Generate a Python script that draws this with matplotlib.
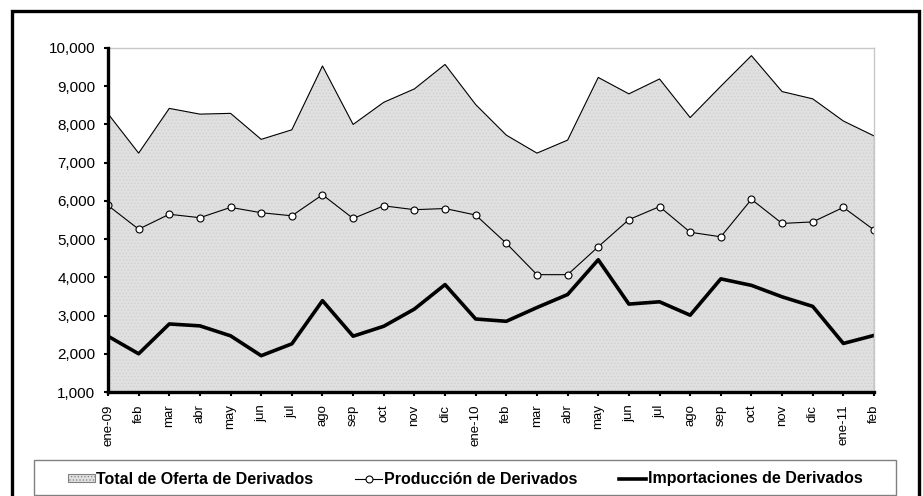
import numpy as np
import matplotlib
matplotlib.use('Agg')
import matplotlib.pyplot as plt
from matplotlib.patches import Rectangle, Patch
from matplotlib.lines import Line2D
from matplotlib.ticker import FuncFormatter

plt.rcParams['font.family'] = ['Liberation Sans', 'DejaVu Sans']
plt.rcParams['hatch.linewidth'] = 0.5

meses = ['ene-09', 'feb', 'mar', 'abr', 'may', 'jun', 'jul', 'ago', 'sep', 'oct', 'nov', 'dic',
         'ene-10', 'feb', 'mar', 'abr', 'may', 'jun', 'jul', 'ago', 'sep', 'oct', 'nov', 'dic',
         'ene-11', 'feb']
total = [8280, 7250, 8420, 8270, 8290, 7610, 7860, 9530, 8000, 8580, 8930, 9570,
         8520, 7720, 7250, 7590, 9230, 8800, 9190, 8180, 9000, 9800, 8860, 8670,
         8090, 7700]
produccion = [5880, 5260, 5650, 5560, 5830, 5690, 5610, 6160, 5540, 5870, 5770, 5800,
              5630, 4890, 4070, 4070, 4800, 5510, 5850, 5180, 5060, 6040, 5410, 5450,
              5830, 5240]
importaciones = [2460, 2000, 2780, 2730, 2470, 1950, 2260, 3390, 2460, 2720, 3170, 3810,
                 2910, 2850, 3210, 3550, 4460, 3300, 3360, 3010, 3960, 3790, 3490, 3240,
                 2270, 2480]

x = np.arange(len(meses))

fig = plt.figure(figsize=(9.23, 4.96), dpi=100)
ax = fig.add_axes([108/923, 1-392/496, 766/923, 344/496])

ax.fill_between(x, 1000, total, facecolor='#e0e0e0', hatch='.....', edgecolor='#cfcfcf',
                linewidth=0)
ax.plot(x, total, color='black', lw=0.8)
ax.plot([x[-1], x[-1]], [1000, total[-1]], color='black', lw=0.8)
ax.plot(x, produccion, color='black', lw=0.8, marker='o', ms=5, mfc='white', mec='black',
        mew=0.8)
ax.plot(x, importaciones, color='black', lw=2.6)

ax.set_xlim(0, 25)
ax.set_ylim(1000, 10000)
ax.set_yticks(range(1000, 10001, 1000))
ax.yaxis.set_major_formatter(FuncFormatter(lambda v, p: f'{int(v):,}'))
ax.set_xticks(x)
ax.set_xticklabels(meses, rotation=90, fontsize=9.5)
ax.tick_params(axis='y', labelsize=11, length=3, width=1.5, pad=6)
ax.tick_params(axis='x', length=3, width=1.5, pad=6)

for s in ['left', 'bottom']:
    ax.spines[s].set_linewidth(2.4)
    ax.spines[s].set_color('black')
for s in ['top', 'right']:
    ax.spines[s].set_linewidth(1)
    ax.spines[s].set_color('#c8c8c8')
ax.spines['left'].set_zorder(5)
ax.spines['bottom'].set_zorder(5)

handles = [Patch(facecolor='#e0e0e0', edgecolor='#808080', hatch='.....', linewidth=0.8),
           Line2D([], [], color='black', lw=0.8, marker='o', ms=5, mfc='white', mec='black', mew=0.8),
           Line2D([], [], color='black', lw=2.6)]
labels = ['Total de Oferta de Derivados', 'Producción de Derivados', 'Importaciones de Derivados']

fig.patches.append(Rectangle((34/923, 1-495/496), 862/923, 35/496, transform=fig.transFigure,
                             fill=False, edgecolor='#808080', linewidth=1))
leg = fig.legend(handles, labels, loc='center', bbox_to_anchor=(465/923, 1-479/496),
                 ncol=3, frameon=False, handlelength=1.7, handleheight=0.45,
                 handletextpad=0.1, columnspacing=2.6,
                 prop={'weight': 'bold', 'size': 11.5}, borderaxespad=0)

fig.patches.append(Rectangle((11.5/923, -0.1), 907/923, 1.1 - 10.5/496, transform=fig.transFigure,
                             fill=False, edgecolor='black', linewidth=2.4, clip_on=False))

fig.savefig('out.png', dpi=100)
